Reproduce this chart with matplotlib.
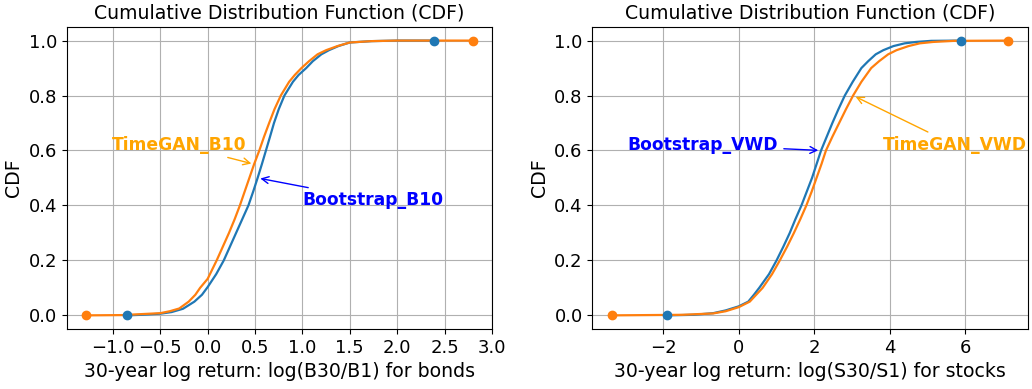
import matplotlib.pyplot as plt

# CDF de los log-retornos a 30 años (bonos)
bonos_boot_x = [-0.85, -0.7, -0.5, -0.38, -0.26, -0.14, -0.06, 0.0, 0.09, 0.17, 0.235, 0.30, 0.365, 0.43, 0.48,
                0.527, 0.572, 0.615, 0.658, 0.70, 0.75, 0.81, 0.9, 0.96, 1.04, 1.11, 1.2, 1.28, 1.38, 1.5, 1.73,
                2.0, 2.39]
bonos_boot_y = [0.0, 0.002, 0.006, 0.012, 0.024, 0.05, 0.075, 0.103, 0.15, 0.2, 0.25, 0.3, 0.35, 0.4, 0.45,
                0.5, 0.55, 0.6, 0.65, 0.7, 0.75, 0.8, 0.85, 0.875, 0.9, 0.925, 0.95, 0.965, 0.98, 0.993, 0.998,
                1.0, 1.0]
bonos_gan_x = [-1.28, -0.9, -0.5, -0.4, -0.3, -0.2, -0.13, -0.08, 0.0, 0.095, 0.16, 0.225, 0.285, 0.34, 0.39,
               0.44, 0.49, 0.545, 0.595, 0.649, 0.705, 0.772, 0.86, 0.92, 0.99, 1.07, 1.16, 1.25, 1.37, 1.5, 1.73,
               2.0, 2.8]
bonos_gan_y = [0.0, 0.001, 0.008, 0.015, 0.025, 0.05, 0.075, 0.1, 0.133, 0.2, 0.25, 0.3, 0.35, 0.4, 0.45,
               0.5, 0.55, 0.6, 0.65, 0.7, 0.75, 0.8, 0.85, 0.875, 0.9, 0.925, 0.95, 0.965, 0.98, 0.993, 0.998,
               1.0, 1.0]

# CDF de los log-retornos a 30 años (acciones)
acciones_boot_x = [-1.91, -1.2, -0.68, -0.35, 0.0, 0.25, 0.4, 0.54, 0.8, 1.0, 1.18, 1.35, 1.5, 1.66, 1.8,
                   1.94, 2.06, 2.18, 2.33, 2.48, 2.64, 2.81, 3.02, 3.25, 3.43, 3.63, 3.83, 4.1, 4.4, 4.7, 5.1, 5.88]
acciones_boot_y = [0.0, 0.002, 0.008, 0.018, 0.033, 0.05, 0.075, 0.1, 0.15, 0.2, 0.25, 0.3, 0.35, 0.4, 0.45,
                   0.5, 0.55, 0.6, 0.65, 0.7, 0.75, 0.8, 0.85, 0.9, 0.925, 0.95, 0.965, 0.98, 0.99, 0.995, 0.999,
                   1.0]
acciones_gan_x = [-3.36, -1.5, -0.68, -0.35, 0.0, 0.29, 0.46, 0.63, 0.88, 1.086, 1.28, 1.46, 1.63, 1.79, 1.93,
                  2.06, 2.19, 2.31, 2.48, 2.66, 2.84, 3.03, 3.25, 3.51, 3.72, 3.96, 4.18, 4.5, 4.8, 5.15, 5.7, 7.14]
acciones_gan_y = [0.0, 0.002, 0.007, 0.015, 0.03, 0.05, 0.075, 0.1, 0.15, 0.2, 0.25, 0.3, 0.35, 0.4, 0.45,
                  0.5, 0.55, 0.6, 0.65, 0.7, 0.75, 0.8, 0.85, 0.9, 0.925, 0.95, 0.965, 0.98, 0.99, 0.995, 0.999,
                  1.0]

azul = '#1f77b4'
naranja = '#ff7f0e'


def graficar_cdf(ax, boot_x, boot_y, gan_x, gan_y, xlabel):
    ax.plot(boot_x, boot_y, color=azul, lw=1.6)
    ax.plot(gan_x, gan_y, color=naranja, lw=1.6)
    # extremos de cada distribución
    ax.plot([gan_x[0], gan_x[-1]], [gan_y[0], gan_y[-1]], 'o', color=naranja, ms=6, zorder=3)
    ax.plot([boot_x[0], boot_x[-1]], [boot_y[0], boot_y[-1]], 'o', color=azul, ms=6, zorder=3)
    ax.set_title("Cumulative Distribution Function (CDF)", fontsize=13.6)
    ax.set_xlabel(xlabel, fontsize=13.6)
    ax.set_ylabel("CDF", fontsize=13.6)
    ax.tick_params(labelsize=13)
    ax.grid(True)


fig = plt.figure(figsize=(10.32, 3.89), dpi=100)
ax1 = fig.add_axes([0.065, 0.154, 0.412, 0.777])
ax2 = fig.add_axes([0.574, 0.154, 0.422, 0.777])

graficar_cdf(ax1, bonos_boot_x, bonos_boot_y, bonos_gan_x, bonos_gan_y,
             "30-year log return: log(B30/B1) for bonds")
ax1.set_xticks([-1.0, -0.5, 0.0, 0.5, 1.0, 1.5, 2.0, 2.5, 3.0])
ax1.annotate("TimeGAN_B10", xy=(0.49, 0.55), xytext=(-0.3, 0.62), color='orange',
             fontsize=12.3, fontweight='bold', ha='center', va='center',
             arrowprops=dict(arrowstyle='->', color='orange'))
ax1.annotate("Bootstrap_B10", xy=(0.527, 0.5), xytext=(1.74, 0.42), color='blue',
             fontsize=12.3, fontweight='bold', ha='center', va='center',
             arrowprops=dict(arrowstyle='->', color='blue'))

graficar_cdf(ax2, acciones_boot_x, acciones_boot_y, acciones_gan_x, acciones_gan_y,
             "30-year log return: log(S30/S1) for stocks")
ax2.annotate("Bootstrap_VWD", xy=(2.18, 0.6), xytext=(-0.95, 0.62), color='blue',
             fontsize=12.3, fontweight='bold', ha='center', va='center',
             arrowprops=dict(arrowstyle='->', color='blue'))
ax2.annotate("TimeGAN_VWD", xy=(3.03, 0.8), xytext=(5.72, 0.62), color='orange',
             fontsize=12.3, fontweight='bold', ha='center', va='center',
             arrowprops=dict(arrowstyle='->', color='orange'))

plt.savefig("out.png", dpi=100)
